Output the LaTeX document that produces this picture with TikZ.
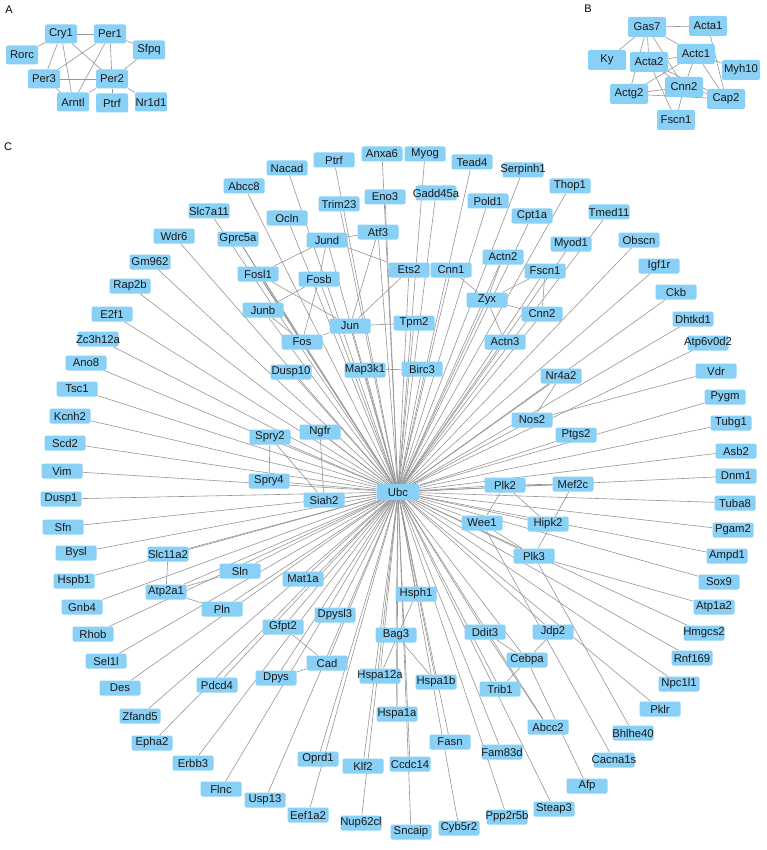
\documentclass[tikz,border=0pt]{standalone}
\usepackage{fontspec}
\setmainfont{Liberation Sans}
\pgfdeclarelayer{background}
\pgfsetlayers{background,main}
\definecolor{nodeblue}{RGB}{137,208,246}
\definecolor{edgegray}{RGB}{150,150,150}
\tikzset{
  abox/.style={rectangle,rounded corners=2pt,fill=nodeblue,minimum width=32pt,minimum height=19pt,inner sep=0pt},
  bbox/.style={rectangle,rounded corners=2pt,fill=nodeblue,minimum width=38pt,minimum height=20pt,inner sep=0pt},
  cbox/.style={rectangle,rounded corners=2pt,fill=nodeblue,minimum width=41pt,minimum height=15pt,inner sep=0pt},
  ubox/.style={rectangle,rounded corners=2pt,fill=nodeblue,minimum width=43pt,minimum height=16pt,inner sep=0pt},
  txt/.style={inner sep=0pt,font=\fontsize{11.3}{12}\selectfont,text=black!90},
  panel/.style={inner sep=0pt,font=\fontsize{11}{12}\selectfont},
  edge/.style={draw=edgegray,line width=0.6pt}
}
\begin{document}
\begin{tikzpicture}[x=1pt,y=-1pt]
\begin{pgfonlayer}{background}
\fill[white] (0,0) rectangle (766,850);
\end{pgfonlayer}
\useasboundingbox (0,0) rectangle (766,850);
\node[panel] (labA) at (9,10) {A};
\node[panel] (labB) at (588,9) {B};
\node[panel] (labC) at (8,147) {C};
% Panel A
\foreach \n/\x/\y/\t in {Cry1/61/34/Cry1, Per1/110/34/Per1, Rorc/22/55/Rorc, Sfpq/149/50/Sfpq,
  Per3/44/79/Per3, Per2/112/79/Per2, Arntl/73/102/Arntl, PtrfA/112/103/Ptrf, Nr1d1/151/102/Nr1d1}
  {\node[abox] (\n) at (\x,\y) {}; \node[txt] at (\x,\y) {\t};}
% Panel B
\foreach \n/\x/\y/\t in {Gas7/647/27/Gas7, Acta1/708/26/Acta1, Actc1/696/54/Actc1, Ky/607/60/Ky,
  Acta2/649/62/Acta2, Myh10/741/70/Myh10, CnnB/684/87/Cnn2, Actg2/629/94/Actg2, Cap2/726/99/Cap2, FscnB/676/120/Fscn1}
  {\node[bbox] (\n) at (\x,\y) {}; \node[txt] at (\x,\y) {\t};}
% Panel C
\node[ubox] (Ubc) at (398,492) {}; \node[txt] at (398,492) {Ubc};
\foreach \n/\x/\y/\t in {
Nacad/287/168/Nacad, PtrfC/334/160/Ptrf, Anxa6/382/154/Anxa6, Myog/425/154/Myog, Tead4/472/162/Tead4,
Serpinh1/523/170/Serpinh1, Thop1/570/186/Thop1, Abcc8/244/186/Abcc8, Eno3/385/197/Eno3, Gadd45a/436/193/Gadd45a,
Pold1/488/201/Pold1, Trim23/339/204/Trim23, Slc7a11/209/211/Slc7a11, Cpt1a/532/216/Cpt1a, Tmed11/609/212/Tmed11,
Ocln/287/218/Ocln, Wdr6/174/236/Wdr6, Gprc5a/238/239/Gprc5a, Jund/327/240/Jund, Atf3/378/232/Atf3,
Myod1/571/244/Myod1, Obscn/639/240/Obscn, Actn2/503/257/Actn2, Gm962/150/262/Gm962, Ets2/409/270/Ets2,
Cnn1/451/270/Cnn1, FscnC/545/271/Fscn1, Igf1r/659/266/Igf1r, Fosl1/258/274/Fosl1, Fosb/319/279/Fosb,
Rap2b/130/286/Rap2b, Ckb/676/292/Ckb, Zyx/487/300/Zyx, Junb/263/310/Junb, E2f1/112/314/E2f1,
CnnC/542/314/Cnn2, Dhtkd1/693/319/Dhtkd1, Tpm2/414/323/Tpm2, Jun/350/326/Jun, Zc3h12a/98/339/Zc3h12a,
Fos/302/342/Fos, Actn3/505/342/Actn3, Atp6v0d2/708/343/Atp6v0d2, Ano8/86/363/Ano8, Map3k1/365/370/Map3k1,
Birc3/422/369/Birc3, Dusp10/291/372/Dusp10, Vdr/716/371/Vdr, Nr4a2/561/376/Nr4a2, Tsc1/77/389/Tsc1,
Pygm/725/397/Pygm, Kcnh2/70/416/Kcnh2, Nos2/532/420/Nos2, Tubg1/731/423/Tubg1, Ngfr/320/432/Ngfr,
Spry2/270/437/Spry2, Ptgs2/576/435/Ptgs2, Scd2/65/443/Scd2, Asb2/736/451/Asb2, Vim/62/471/Vim,
Dnm1/736/476/Dnm1, Spry4/269/481/Spry4, Plk2/505/485/Plk2, Mef2c/573/484/Mef2c, Dusp1/61/499/Dusp1,
Siah2/324/500/Siah2, Tuba8/735/503/Tuba8, Wee1/482/523/Wee1, Hipk2/548/524/Hipk2, Sfn/63/527/Sfn,
Pgam2/733/530/Pgam2, Bysl/76/553/Bysl, Slc11a2/168/554/Slc11a2, Ampd1/727/556/Ampd1, Plk3/534/556/Plk3,
Sln/240/571/Sln, Mat1a/303/579/Mat1a, Hspb1/74/581/Hspb1, Sox9/719/582/Sox9, Atp2a1/166/592/Atp2a1,
Hsph1/416/594/Hsph1, Gnb4/82/607/Gnb4, Atp1a2/714/607/Atp1a2, Pln/222/609/Pln, Dpysl3/335/615/Dpysl3,
Gfpt2/283/627/Gfpt2, Ddit3/485/632/Ddit3, Jdp2/553/632/Jdp2, Hmgcs2/704/633/Hmgcs2, Rhob/93/634/Rhob,
Bag3/396/635/Bag3, Cebpa/527/660/Cebpa, Rnf169/692/658/Rnf169, Sel1l/106/661/Sel1l, Cad/327/663/Cad,
Hspa12a/380/676/Hspa12a, Dpys/276/678/Dpys, Hspa1b/436/682/Hspa1b, Npc1l1/679/684/Npc1l1, Des/120/688/Des,
Pdcd4/217/685/Pdcd4, Trib1/500/689/Trib1, Pklr/660/709/Pklr, Hspa1a/397/714/Hspa1a, Zfand5/140/716/Zfand5,
Abcc2/548/727/Abcc2, Bhlhe40/633/733/Bhlhe40, Fasn/450/742/Fasn, Epha2/152/743/Epha2, Fam83d/502/752/Fam83d,
Oprd1/318/759/Oprd1, Cacna1s/614/760/Cacna1s, Erbb3/193/763/Erbb3, Ccdc14/410/764/Ccdc14, Klf2/363/766/Klf2,
Afp/587/786/Afp, Flnc/221/789/Flnc, Usp13/265/800/Usp13, Steap3/554/809/Steap3, Eef1a2/308/815/Eef1a2,
Ppp2r5b/507/817/Ppp2r5b, Nup62cl/361/823/Nup62cl, Cyb5r2/459/828/Cyb5r2, Sncaip/411/832/Sncaip}
  {\node[cbox] (\n) at (\x,\y) {}; \node[txt] at (\x,\y) {\t};}
\begin{pgfonlayer}{background}
% Panel A edges
\foreach \a/\b in {Cry1/Per1, Cry1/Rorc, Cry1/Per3, Cry1/Arntl, Cry1/Per2, Per1/Per3, Per1/Arntl, Per1/Per2,
  Per1/Sfpq, Sfpq/Per2, Per3/Per2, Per3/Arntl, Per2/Arntl, Per2/PtrfA, Per2/Nr1d1}
  \draw[edge] (\a) -- (\b);
% Panel B edges
\foreach \a/\b in {Gas7/Acta1, Gas7/Ky, Gas7/Acta2, Gas7/Actg2, Gas7/Actc1, Gas7/CnnB, Acta2/Actc1, Acta2/FscnB,
  Acta2/CnnB, Acta2/Cap2, Actc1/Actg2, Actc1/CnnB, Actc1/Cap2, Actc1/Myh10, Acta1/Cap2, Actg2/CnnB, Actg2/Cap2,
  CnnB/Cap2, CnnB/FscnB}
  \draw[edge] (\a) -- (\b);
% Panel C: hub edges
\foreach \n in {Nacad, PtrfC, Anxa6, Myog, Tead4, Serpinh1, Thop1, Abcc8, Eno3, Gadd45a, Pold1, Trim23, Slc7a11,
  Cpt1a, Tmed11, Ocln, Wdr6, Gprc5a, Jund, Atf3, Myod1, Obscn, Actn2, Gm962, Ets2, Cnn1, FscnC, Igf1r, Fosl1,
  Fosb, Rap2b, Ckb, Zyx, Junb, E2f1, CnnC, Dhtkd1, Tpm2, Jun, Zc3h12a, Fos, Actn3, Atp6v0d2, Ano8, Map3k1,
  Birc3, Dusp10, Nr4a2, Tsc1, Pygm, Kcnh2, Nos2, Tubg1, Ngfr, Spry2, Ptgs2, Scd2, Asb2, Vim, Dnm1, Spry4,
  Plk2, Mef2c, Dusp1, Siah2, Tuba8, Wee1, Hipk2, Sfn, Pgam2, Bysl, Slc11a2, Ampd1, Plk3, Sln, Mat1a, Hspb1,
  Sox9, Atp2a1, Hsph1, Gnb4, Pln, Dpysl3, Gfpt2, Ddit3, Jdp2, Hmgcs2, Rhob, Bag3, Cebpa, Rnf169, Sel1l, Cad,
  Hspa12a, Dpys, Hspa1b, Npc1l1, Des, Pdcd4, Trib1, Pklr, Hspa1a, Zfand5, Abcc2, Fasn, Epha2, Fam83d, Oprd1,
  Erbb3, Ccdc14, Klf2, Flnc, Usp13, Steap3, Eef1a2, Ppp2r5b, Nup62cl, Cyb5r2, Sncaip}
  \draw[edge] (Ubc) -- (\n);
% Panel C: other edges
\foreach \a/\b in {Jund/Fosl1, Jund/Fosb, Jund/Atf3, Jund/Ets2, Atf3/Jun, Fosl1/Jun, Fosl1/Fos, Fosb/Junb,
  Fosb/Fos, Junb/Fos, Fos/Jun, Jun/Tpm2, Jun/Ets2, Cnn1/Zyx, Map3k1/Birc3, Zyx/Actn2, Zyx/FscnC, Zyx/CnnC,
  Zyx/Actn3, FscnC/CnnC, Nr4a2/Nos2, Plk2/Mef2c, Plk2/Wee1, Plk2/Hipk2, Mef2c/Plk3, Wee1/Plk3, Spry2/Spry4,
  Spry2/Siah2, Ngfr/Siah2, Slc11a2/Atp2a1, Atp2a1/Sln, Atp2a1/Pln, Gfpt2/Cad, Dpys/Cad, Hsph1/Hspa12a,
  Bag3/Hspa1b, Bag3/Hspa1a, Ddit3/Cebpa, Jdp2/Cebpa, Cebpa/Trib1, Ddit3/Abcc2, Cebpa/Afp, Vdr/Nos2,
  Atp1a2/Plk3, Cacna1s/Wee1, Bhlhe40/Plk3, Gprc5a/Fos}
  \draw[edge] (\a) -- (\b);
\end{pgfonlayer}
\end{tikzpicture}
\end{document}
